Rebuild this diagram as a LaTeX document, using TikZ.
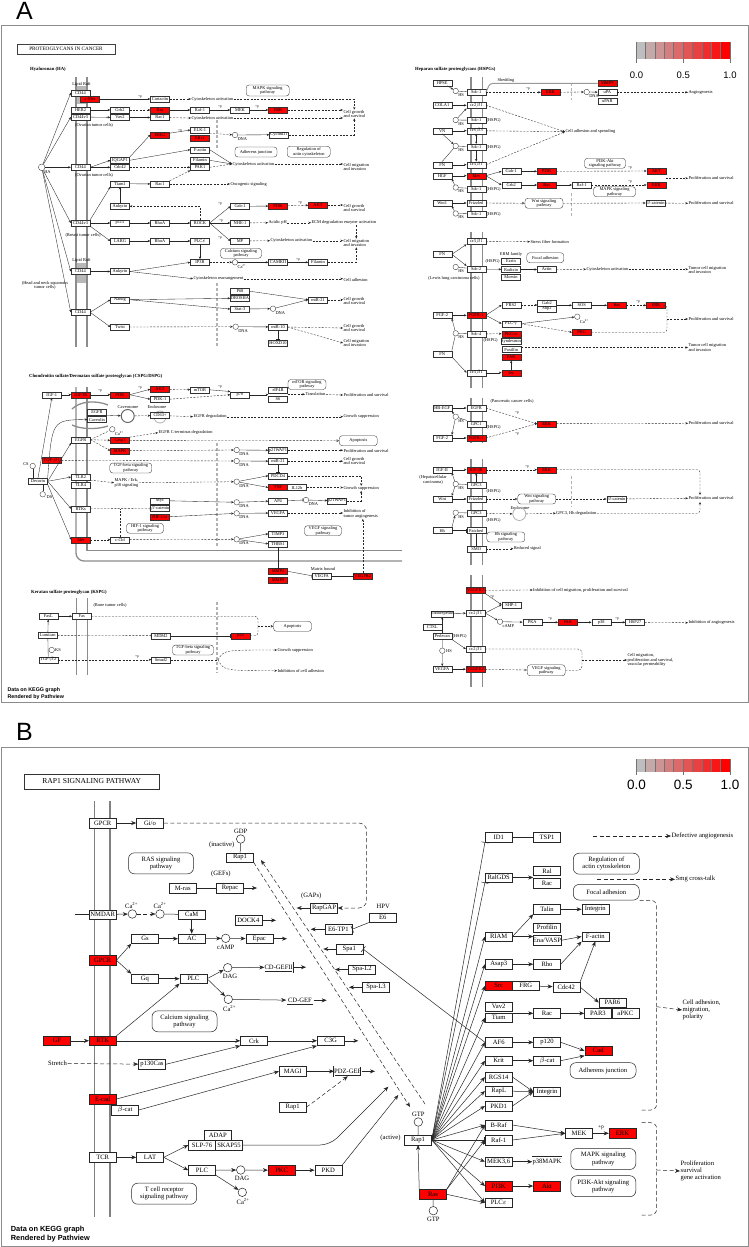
\documentclass[tikz,border=0pt]{standalone}
\usepackage{fontspec}
\setmainfont{Liberation Serif}
\newfontfamily\sansf{Liberation Sans}
\usetikzlibrary{arrows.meta}
\newcommand\fa{\fontsize{4.4}{4.7}\selectfont}
\newcommand\fb{\fontsize{6.6}{7.3}\selectfont}
\newcommand\fpp{\fontsize{3.6}{3.6}\selectfont}
\definecolor{lgr}{RGB}{190,190,190}
\definecolor{kred}{RGB}{255,0,0}
\newcommand\cir[4]{\node[ca] (#1) at (#2,#3) {}; \node[ta, anchor=north west] (#1t) at (#1.south east) {#4};}
\newcommand\plusp[3]{\node[pp] (#1) at (#2,#3) {+p};}
\tikzset{
 wa/.style={draw=black!80, fill=white, line width=0.35pt, minimum width=19pt, minimum height=6pt, inner sep=0pt, font=\fa},
 ra/.style={wa, fill=kred},
 pa/.style={draw=black!80, fill=white, line width=0.35pt, rounded corners=3pt, minimum width=40pt, minimum height=10pt, inner sep=0pt, align=center, font=\fa},
 ta/.style={font=\fa, inner sep=0.3pt, align=center},
 tw/.style={font=\fa, inner sep=0.3pt, align=left, anchor=west},
 hd/.style={font=\fontsize{4.7}{5}\selectfont\bfseries, inner sep=0pt, anchor=west},
 ca/.style={circle, draw=black!80, fill=white, line width=0.35pt, minimum size=5.5pt, inner sep=0pt},
 ln/.style={draw=black!85, line width=0.35pt},
 ar/.style={ln, -{Stealth[length=2.6pt,width=2.2pt]}},
 dr/.style={ar, dash pattern=on 2pt off 1.4pt},
 dn/.style={ln, dash pattern=on 2pt off 1.4pt},
 ib/.style={ln, -{Bar[width=4pt]}},
 di/.style={ib, dash pattern=on 2pt off 1.4pt},
 oa/.style={dn, -{Triangle[open,length=2.4pt,width=2.4pt]}},
 mem/.style={draw=black!45, line width=1.3pt},
 nuc/.style={draw=black!30, line width=1.3pt, dash pattern=on 3pt off 2pt},
 pp/.style={font=\fpp, inner sep=0pt},
 wb/.style={draw=black!85, fill=white, line width=0.5pt, minimum width=27pt, minimum height=9.5pt, inner sep=0pt, font=\fb},
 rb/.style={wb, fill=kred},
 pb/.style={draw=black!85, fill=white, line width=0.5pt, rounded corners=6pt, minimum width=65pt, minimum height=21pt, inner sep=0pt, align=center, font=\fb},
 tb/.style={font=\fb, inner sep=0.5pt, align=center},
 cb/.style={circle, draw=black!85, fill=white, line width=0.5pt, minimum size=8.5pt, inner sep=0pt},
 lb/.style={draw=black!85, line width=0.5pt},
 ab/.style={lb, -{Stealth[length=5pt,width=4pt]}},
 db/.style={ab, dash pattern=on 4pt off 2.5pt},
 dnb/.style={lb, dash pattern=on 4pt off 2.5pt},
 bb/.style={lb, -{Bar[width=7pt]}},
 memb/.style={draw=black!50, line width=1.6pt},
 frm/.style={draw=black!45, line width=1pt},
}
\begin{document}
\begin{tikzpicture}[x=1pt,y=-1pt]
\useasboundingbox (0,0) rectangle (749,1247);
\fill[white] (0,0) rectangle (749,1247);
% ================= PANEL A =================
\node[font=\sansf\fontsize{25}{25}\selectfont, inner sep=0, anchor=base west] (labA) at (16,20) {A};
\draw[frm] (1,26) rectangle (748,702);
\node[draw=black!75, line width=0.8pt, minimum width=98pt, minimum height=10pt, inner sep=0pt, font=\fontsize{5.2}{5.5}\selectfont] (titA) at (66,49) {PROTEOGLYCANS IN CANCER};
% legend A
\foreach \i in {0,...,9}{\pgfmathtruncatemacro\pc{\i*100/9}\fill[red!\pc!lgr] (636+9.4*\i,42) rectangle (645.4+9.4*\i,59);}
\foreach \i in {0,...,10}{\draw[black!55, line width=0.35pt] (636+9.4*\i,42) -- (636+9.4*\i,59);}
\foreach \i in {0,5,10}{\draw[black!55, line width=0.35pt] (636+9.4*\i,59) -- (636+9.4*\i,63);}
\node[font=\sansf\fontsize{9.5}{10}\selectfont, inner sep=0] (lgA0) at (636.5,75.5) {0.0};
\node[font=\sansf\fontsize{9.5}{10}\selectfont, inner sep=0] (lgA1) at (683.3,75.5) {0.5};
\node[font=\sansf\fontsize{9.5}{10}\selectfont, inner sep=0] (lgA2) at (730,75.5) {1.0};
% membranes A
\draw[mem] (76,77) -- (76,347); \draw[mem] (87,77) -- (87,347);
\fill[black!28] (77,86) rectangle (86,104);
\fill[black!28] (77,263) rectangle (86,283);
\draw[mem, rounded corners=8] (76,387) -- (76,561) -- (402,561);
\draw[mem] (87,387) -- (87,550.7) -- (402,550.7);
\draw[mem] (72,409) .. controls (80,401) and (96,400) .. (108,405);
\draw[mem] (72,425) .. controls (80,429) and (96,430) .. (108,426);
\draw[mem] (76.7,598) -- (76.7,675); \draw[mem] (87.7,598) -- (87.7,675);
\foreach \a/\b in {77/218,232/388,398/443,459/565,575/687}{\draw[mem] (471,\a) -- (471,\b); \draw[mem] (482.3,\a) -- (482.3,\b);}
\draw[nuc] (217,120) -- (217,150); \draw[nuc] (217,283) -- (217,347);
\draw[nuc] (217,443) -- (217,547); \draw[nuc] (217,602) -- (217,673);
\draw[nuc] (571.7,83) -- (571.7,100); \draw[nuc] (571.7,193) -- (571.7,217); \draw[nuc] (571.7,476) -- (571.7,507);
% ---- Hyaluronan
\node[hd] (hdHA) at (30,69) {Hyaluronan (HA)};
\node[ta] (lr1) at (81.5,84) {Lipid Raft};
\node[ta] (lr2) at (81.5,260) {Lipid Raft};
\node[wa] (cd44a) at (80.5,92.7) {CD44};
\node[ra] (cmet) at (90,99) {c-Met};
\node[wa] (cort) at (160,99) {Cortactin};
\node[tw] (cytA1) at (191,99) {Cytoskeleton activation};
\node[pa, minimum width=43pt, minimum height=11pt] (mapkA) at (267.7,90.5) {MAPK signaling\\pathway};
\node[wa] (her2) at (80.5,110) {HER2};
\node[wa] (cd44v3a) at (80.5,117) {CD44v3};
\node[ta] (ovar1) at (94,125) {(Ovarian tumor cells)};
\node[wa] (grb2a) at (120,110) {Grb2};
\node[wa] (vav2a) at (120,117.5) {Vav2};
\node[ra] (rasA) at (160,110) {Ras};
\node[wa] (rac1a) at (160,117.5) {Rac1};
\node[wa] (raf1a) at (200,110) {Raf-1};
\node[wa] (mekA) at (240,110) {MEK};
\node[ra] (erkA) at (278,110) {ERK};
\node[tw] (cgs1) at (343,114) {Cell growth\\and survival};
\node[tw] (cytA2) at (191,118) {Cytoskeleton activation};
\node[ra] (erk2a) at (160,134.7) {ERK2};
\node[wa] (elk1) at (200,130) {ELK-1};
\node[ra] (era) at (200,138.5) {ER$\alpha$};
\cir{dna1}{235}{135}{DNA}
\node[wa] (cycd1) at (279,134.7) {CyclinD1};
\node[pa, minimum width=42pt] (adhA) at (256,152) {Adherens junction};
\node[pa, minimum width=43pt, minimum height=11pt] (regA) at (308.7,151.7) {Regulation of\\actin cytoskeleton};
\node[wa] (iqgap) at (120,160.3) {IQGAP1};
\node[wa] (cdc42a) at (120,167.3) {Cdc42};
\node[wa] (cd44b) at (80.5,167.3) {CD44};
\node[ta] (ovar2) at (94,175.7) {(Ovarian tumor cells)};
\node[wa] (factin) at (200,149.7) {F-actin};
\node[wa] (filA) at (200,160.3) {Filamin};
\node[wa] (pak1) at (200,167.3) {PAK1};
\node[tw] (cytA3) at (232,164) {Cytoskeleton activation};
\node[tw] (cmi1) at (343,167) {Cell migration\\and invasion};
\node[circle, draw=black!80, fill=white, line width=0.35pt, minimum size=6.6pt, inner sep=0pt] (ha) at (41.7,167.3) {};
\node[ta] (hat) at (47.5,172.5) {HA};
\node[wa] (tiam1) at (120,183.7) {Tiam1};
\node[wa] (rac1b) at (160,184) {Rac1};
\node[tw] (onco) at (230,184) {Oncogenic signaling};
\node[wa] (ank1) at (120,206.3) {Ankyrin};
\node[wa] (gab1a) at (240,206.3) {Gab-1};
\node[ra] (pi3ka) at (278,206) {PI3K};
\node[ra] (akta) at (318,205) {AKT};
\node[tw] (cgs2) at (343,208) {Cell growth\\and survival};
\node[wa] (cd44v3b) at (80.5,223) {CD44v3};
\node[ta] (breast) at (83,235.7) {(Breast tumor cells)};
\node[wa] (p115) at (120,223) {p115};
\node[wa] (rhoa1) at (160,223) {RhoA};
\node[wa] (rock) at (200,223) {ROCK};
\node[wa] (nhe1) at (240,223) {NHE-1};
\node[tw] (acid) at (268,222.7) {Acidic pH};
\node[tw] (ecm) at (311,222.7) {ECM degradation enzyme activation};
\node[wa] (larg) at (120,241) {LARG};
\node[wa] (rhoa2) at (160,241) {RhoA};
\node[wa] (plce) at (200,241) {PLC$\varepsilon$};
\node[wa] (mp) at (240,241) {MP};
\node[tw] (cytA4) at (270,240.7) {Cytoskeleton activation};
\node[tw] (cmi2) at (343,243) {Cell migration\\and invasion};
\node[pa, minimum width=41pt] (calA) at (241,253.3) {Calcium signaling\\pathway};
\node[wa] (ip3r) at (200,262.3) {IP3R};
\cir{ca1}{235}{262.3}{Ca\textsuperscript{2+}}
\node[wa] (camk) at (278,262.3) {CAMKII};
\node[wa] (fil2) at (318,262.3) {Filamin};
\node[wa] (cd44c) at (80.5,271.5) {CD44};
\node[wa] (ank2) at (120,271.5) {Ankyrin};
\node[tw] (cytre) at (193,278.7) {Cytoskeleton rearrangement};
\node[tw] (cadh) at (343,280) {Cell adhesion};
\node[ta] (hnsc) at (45,285.5) {(Head and neck squamous\\tumor cells)};
\node[wa] (p68) at (240,291.2) {P68};
\node[wa] (drosha) at (240,298.3) {DROSHA};
\node[wa] (stat3) at (240,309) {Stat-3};
\node[wa] (nanog) at (120,299.7) {Nanog};
\node[wa] (cd44d) at (80.5,312.3) {CD44};
\cir{dna2}{273}{308.7}{DNA}
\node[wa] (mir21a) at (318,299.7) {miR-21};
\node[tw] (cgs3) at (343,301) {Cell growth\\and survival};
\node[wa] (twist) at (120,327) {Twist};
\cir{dna3}{235.7}{326.7}{DNA}
\node[wa] (mir10) at (278,327) {miR-10};
\node[wa] (hoxd10) at (278,343) {HOXD10};
\node[tw] (cgs4) at (343,328) {Cell growth\\and survival};
\node[tw] (cmi3) at (343,343) {Cell migration\\and invasion};
\plusp{pq1}{140}{96.5}\plusp{pq2}{220}{106.5}\plusp{pq3}{257}{106.5}\plusp{pq4}{180}{130.5}
\plusp{pq5}{220}{204}\plusp{pq6}{221}{220.5}\plusp{pq7}{220}{237.5}\plusp{pq8}{300}{202.5}\plusp{pq9}{298}{259.5}
% HA edges
\foreach \t in {cd44a,cd44v3a,cd44b,cd44v3b,cd44c,cd44d}{\draw[ar] (ha) -- (\t.west);}
\draw[ar] (cmet) -- (cort);
\draw[dr] (cort) -- (cytA1.west);
\draw[dr] (cytA1.east) -| (cgs1.north);
\draw[ar] (her2) -- (grb2a);
\draw[dr] (grb2a) -- (rasA);
\draw[ar] (rasA) -- (raf1a); \draw[ar] (raf1a) -- (mekA); \draw[ar] (mekA) -- (erkA);
\draw[dr] (erkA) -- (erkA -| cgs1.west);
\draw[ar] (cd44v3a) -- (vav2a); \draw[ar] (vav2a) -- (rac1a);
\draw[dr] (rac1a) -- (cytA2.west); \draw[dr] (cytA2.east) -- (cytA2 -| cgs1.west);
\draw[ar] (iqgap.north east) -- (erk2a.west);
\draw[ar] (erk2a) -- (elk1.west);
\draw[dr] (elk1.south east) -- (dna1);
\draw[ar] (dna1) -- (cycd1);
\draw[dr] (cycd1.east) -| (cgs1.south);
\draw[ar] (cd44b.east) -- (iqgap.west); \draw[ar] (cd44b.east) -- (cdc42a.west);
\draw[ar] (iqgap.east) -- (factin.west);
\draw[dr] (cdc42a) -- (pak1);
\draw[ar] (factin.east) -- (cytA3.west); \draw[ar] (filA.east) -- (cytA3.west);
\draw[dr] (pak1.east) -- (cytA3.west);
\draw[dr] (cytA3.east) -- (cytA3 -| cmi1.west);
\draw[ar] (tiam1) -- (rac1b);
\draw[dr] (rac1b.north east) -- (pak1.south west);
\draw[dr] (rac1b) -- (onco.west);
\draw[ar] (cd44v3b.north east) -- (tiam1.south west);
\draw[ar] (ank1) -- (tiam1);
\draw[ar] (cd44v3b) -- (p115); \draw[ar] (p115) -- (rhoa1); \draw[ar] (rhoa1) -- (rock);
\draw[ar] (cd44v3b.south east) -- (larg.west); \draw[ar] (larg) -- (rhoa2); \draw[ar] (rhoa2) -- (plce);
\draw[ar] (plce) -- (ip3r);
\draw[dr] (rock.north) |- (ank1.east);
\draw[ar] (rock.east) -- (gab1a.west); \draw[ar] (rock) -- (nhe1); \draw[ar] (rock.east) -- (mp.west);
\draw[ar] (gab1a) -- (pi3ka); \draw[dr] (pi3ka) -- (akta); \draw[dr] (akta) -- (akta -| cgs2.west);
\draw[dr] (nhe1) -- (acid.west); \draw[dr] (acid) -- (ecm.west);
\draw[dr] (mp) -- (cytA4.west); \draw[dr] (cytA4) -- (cytA4 -| cmi2.west);
\draw[dr] (ecm.south -| cmi2.north) -- (cmi2.north);
\draw[dr] (ip3r) -- (ca1); \draw[ar] (ca1) -- (camk); \draw[ar] (camk) -- (fil2);
\draw[dr] (fil2.east) -| (cmi2.south);
\draw[ar] (cd44c) -- (ank2);
\draw[ar] (ank2.east) -- (ip3r.west); \draw[ar] (ank2.east) -- (cytre.west);
\draw[dr] (cytre) -- (cytre -| cadh.west);
\draw[ar] (cd44d.east) -- (nanog.west); \draw[ar] (cd44d.east) -- (twist.west);
\draw[ar] (nanog.east) -- (drosha.west); \draw[ar] (nanog.east) -- (stat3.west);
\draw[ar] (p68.east) -- (mir21a.west); \draw[ar] (stat3) -- (dna2); \draw[ar] (dna2) -- (mir21a.west);
\draw[dr] (mir21a) -- (mir21a -| cgs3.west);
\draw[dr] (twist) -- (dna3); \draw[ar] (dna3) -- (mir10); \draw[ib] (mir10) -- (hoxd10);
\draw[dr] (mir10.east) -- (cgs4.west); \draw[dr] (mir10.east) -- (cmi3.west);
% ---- CSPG / DSPG
\node[hd] (hdCS) at (29,376.7) {Chondroitin sulfate/Dermatan sulfate proteoglycan (CSPG/DSPG)};
\node[wa] (igf1) at (51.8,394.7) {IGF-1};
\node[ra] (igf1r) at (80.8,394.7) {IGF-IR};
\node[ra] (pi3kb) at (120,394.7) {PI3K};
\node[ra] (aktb) at (160,389.2) {AKT};
\node[wa] (pdk1) at (160,399.2) {PDK-1};
\node[wa] (mtor) at (200,389.8) {mTOR};
\node[wa] (p70) at (240,394.7) {p70};
\node[wa] (eif4b) at (278,390.5) {eIF4B};
\node[wa] (s6) at (278,399) {S6};
\node[pa, minimum width=38pt] (mtorp) at (307,384.5) {mTOR signaling\\pathway};
\node[tw] (transl) at (305,394.3) {Translation};
\node[tw] (prolA1) at (343,395) {Proliferation and survival};
\node[wa] (egfr1) at (97,412) {EGFR};
\node[wa] (cav) at (97,419.5) {Caveolin};
\node[circle, draw=black!60, line width=1pt, fill=white, minimum size=13pt, inner sep=0pt] (cavs) at (127.7,416) {};
\node[ta] (cavst) at (128,407.2) {Caveosome};
\node[ta] (endot) at (157,407.2) {Endosome};
\node[circle, draw=black!30, line width=0.8pt, minimum size=12pt, inner sep=0pt] (endoc1) at (160,417) {};
\node[wa] (cd63) at (160,415.5) {CD63+};
\node[tw] (egfrd) at (193,416.7) {EGFR degradation};
\node[tw] (gsupp1) at (343,416.7) {Growth suppression};
\node[wa] (egfr2) at (80.8,439.7) {EGFR};
\cir{ca2}{112.3}{429.3}{Ca\textsuperscript{2+}}
\node[ra] (casp3) at (120,440.3) {Casp3};
\node[ra] (mapkb) at (120,450.7) {MAPK};
\node[tw] (egfrc) at (158,432.7) {EGFR C-terminus degradation};
\node[pa, minimum width=38pt] (apop1) at (358.3,440.7) {Apoptosis};
\cir{dna4}{236.7}{450}{DNA}
\node[wa] (p21a) at (278,450.3) {p21WAF1};
\node[tw] (prolA2) at (343,451) {Proliferation and survival};
\node[ra] (tgfb1) at (51.8,460.3) {TGF-$\beta$1};
\cir{dna5}{236.7}{461}{DNA}
\node[wa] (mir21b) at (278,461.2) {miR-21};
\node[tw] (cgs5) at (343,461) {Cell growth\\and survival};
\node[pa, minimum width=42pt] (tgfbp) at (130.8,468) {TGF-beta signaling\\pathway};
\node[ca] (csC) at (32.7,466) {};
\node[ta] (csT) at (26,464.5) {CS};
\node[wa] (decorin) at (38,481.3) {Decorin};
\node[ca] (dsC) at (42.7,494.3) {};
\node[ta] (dsT) at (49.5,497) {DS};
\node[wa] (tlr2) at (80.8,477) {TLR2};
\node[wa] (tlr4) at (80.8,485.5) {TLR4};
\node[tw] (mapkerk) at (114,482.7) {MAPK / Erk,\\p38 signaling};
\cir{dna6}{236.7}{481.7}{DNA}
\node[wa] (pdcd4) at (278,475.7) {PDCD4};
\node[ra] (tnf) at (278,487.5) {TNF};
\node[wa] (il12b) at (297,487.5) {IL12b};
\node[tw] (gsupp2) at (343,488.3) {Growth suppression};
\node[wa] (rtks) at (80.8,508.8) {RTKs};
\node[wa] (myc) at (160,500.8) {Myc};
\node[wa] (bcat1) at (160,508.5) {$\beta$-catenin};
\node[ra] (hif1a) at (160,516.7) {HIF-1$\alpha$};
\cir{dna7}{236.7}{502.3}{DNA}
\node[wa] (ap4) at (278,500.8) {AP4};
\cir{dna8}{306}{500}{DNA}
\node[wa] (p21b) at (337,500.8) {p21WAF1};
\cir{dna9}{236.7}{513.3}{DNA}
\node[wa] (vegfa1) at (278,513) {VEGFA};
\node[tw] (inhang) at (343,514) {Inhibition of\\tumor angiogenesis};
\node[pa, minimum width=37pt] (hifp) at (145,528.3) {HIF-1 signaling\\pathway};
\node[pa, minimum width=37pt] (vegfp1) at (323,530.7) {VEGF signaling\\pathway};
\node[ra] (met1) at (80.8,539.7) {Met};
\node[wa] (ccbl) at (120,539.7) {c-Cbl};
\cir{dna10}{236.7}{539.3}{DNA}
\node[wa] (timp3) at (278,533.8) {TIMP3};
\node[wa] (thbs1) at (278,543.8) {THBS1};
\node[ra] (mmp2) at (278,571.3) {MMP2};
\node[ra] (mmp9a) at (278,580.3) {MMP9};
\node[ta] (matrixb) at (323,569) {Matrix bound};
\node[wa] (vegfa2) at (321.7,575.8) {VEGFA};
\node[ra] (vegfr2a) at (362.8,575.8) {VEGFR2};
\plusp{pq10}{100}{391}\plusp{pq11}{140}{387.5}\plusp{pq12}{220}{387}
\draw[ar] (decorin.north) -- (igf1.south);
\draw[ar] (igf1) -- (igf1r); \draw[ar] (igf1r) -- (pi3kb);
\draw[ar] (pi3kb.east) -- (aktb.west); \draw[ar] (pi3kb.east) -- (pdk1.west);
\draw[dr] (aktb) -- (mtor); \draw[ar] (mtor.east) -- (p70.north west);
\draw[dr] (pdk1.east) -- (p70.west);
\draw[ar] (p70.east) -- (eif4b.south west |- p70);
\draw[dr] (transl.west -| s6.east) -- (transl.west);
\draw[dr] (transl) -- (prolA1.west);
\draw[ar] (decorin.north east) .. controls (52,420) .. (cav.west);
\draw[ar] (egfr1.south east) -- (cavs);
\draw[dr] (cavs) -- (cd63); \draw[dr] (cd63) -- (egfrd.west); \draw[dr] (egfrd) -- (egfrd -| gsupp1.west);
\draw[ar] (decorin.east) -- (egfr2.south west);
\draw[dn] (egfr2.east) -- (ca2); \draw[dr] (egfr2.east) -- (casp3.west); \draw[dr] (egfr2.east) -- (mapkb.west);
\draw[dr] (casp3.north east) -- (egfrc.west);
\draw[oa] (casp3) -- (apop1.west);
\draw[dr] (mapkb) -- (dna4); \draw[ar] (dna4) -- (p21a); \draw[dr] (p21a) -- (p21a -| prolA2.west);
\draw[dr] (tgfb1) -- (dna5); \draw[ar] (dna5) -- (mir21b); \draw[dr] (mir21b) -- (mir21b -| cgs5.west);
\draw[ib] (mir21b) -- (pdcd4);
\draw[ln] (csC.south) -- (csC.south |- decorin.north);
\draw[ln] (dsC.north) -- (dsC.north |- decorin.south);
\draw[ar] (decorin.east) -- (tlr2.west);
\draw[dr] (tlr2.south east) -- (mapkerk.west);
\draw[dr] (mapkerk.east) -- (dna6);
\draw[ar] (dna6) -- (pdcd4.west); \draw[ar] (dna6) -- (tnf.west);
\draw[dr] (pdcd4.east) -| (gsupp2.north);
\draw[dr] (il12b) -- (il12b -| gsupp2.west);
\draw[dr] (p21b.east) -| (gsupp2.south);
\draw[ar] (decorin.east) -- (rtks.west);
\draw[di] (rtks) -- (bcat1.west);
\draw[ar] (myc.east) -- (dna7); \draw[ar] (hif1a.east) -- (dna9);
\draw[ar] (dna7) -- (ap4); \draw[ib] (ap4) -- (dna8); \draw[ar] (dna8) -- (p21b);
\draw[ar] (dna9) -- (vegfa1); \draw[dr] (vegfa1) -- (vegfa1 -| inhang.west);
\draw[ar] (decorin.south east) -- (met1.west);
\draw[dr] (met1) -- (ccbl); \draw[dr] (ccbl) -- (dna10);
\draw[ar] (dna10) -- (timp3.west); \draw[ar] (dna10) -- (thbs1.west);
\draw[dn] (ccbl.north) -- (ccbl.north |- rtks);
\draw[ib] (thbs1) -- (mmp2);
\draw[ib] (mmp2.east) -- (vegfa2.west); \draw[ib] (vegfa2) -- (vegfr2a);
\draw[dr] (vegfr2a) -- (vegfr2a |- inhang.south);
% ---- KSPG
\node[hd] (hdKS) at (31,592.3) {Keratan sulfate proteoglycan (KSPG)};
\node[ta] (bone) at (110,605.7) {(Bone tumor cells)};
\node[wa] (fasl) at (48.3,616.3) {FasL};
\node[wa] (fas) at (81.8,616.3) {Fas};
\node[wa] (lumican) at (47.8,635.3) {Lumican};
\node[ca] (ksC) at (51.7,650) {};
\node[ta] (ksT) at (58,650) {KS};
\node[wa] (tgfb2) at (48.3,659.7) {TGF-$\beta$2};
\node[wa] (mdm2) at (161,635.7) {MDM2};
\node[ra] (p53) at (240.5,635.7) {p53};
\node[pa, minimum width=38pt] (apop2) at (292.5,626.3) {Apoptosis};
\node[pa, minimum width=41pt] (tgfbp2) at (193,650) {TGF-beta signaling\\pathway};
\node[wa] (smad2) at (161,659.7) {Smad2};
\node[tw] (gsupp3) at (277,650) {Growth suppression};
\node[tw] (inhcell) at (277,670.7) {Inhibition of cell adhesion};
\plusp{pq13}{137}{657}
\coordinate (kjA) at (258,626.3);
\coordinate (kjB) at (218,659.7);
\draw[ar] (fasl) -- (fas);
\draw[ar] (lumican) -- (fasl);
\draw[ln] (lumican) -- (tgfb2);
\draw[dn, rounded corners=3] (fas.east) -| (kjA);
\draw[dn, rounded corners=3] (p53.east) -| (kjA);
\draw[oa] (kjA) -- (apop2.west);
\draw[di] (lumican) -- (mdm2);
\draw[ib] (mdm2) -- (p53);
\draw[dr] (tgfb2) -- (smad2);
\draw[dn] (smad2) -- (kjB);
\draw[dr] (kjB) .. controls (224,650) .. (gsupp3.west);
\draw[dr] (kjB) .. controls (224,670.7) .. (inhcell.west);
\node[font=\sansf\bfseries\fontsize{5.3}{6}\selectfont, inner sep=0, anchor=west] (dataA1) at (7.3,690.3) {Data on KEGG graph};
\node[font=\sansf\bfseries\fontsize{5.3}{6}\selectfont, inner sep=0, anchor=west] (dataA2) at (7.3,697) {Rendered by Pathview};
% ---- HSPG (right)
\node[hd] (hdHS) at (415,69.3) {Heparan sulfate proteoglycans (HSPGs)};
\node[wa] (hpse) at (442.2,82.7) {HPSE};
\cir{hs1}{455.7}{91}{HS}
\node[wa] (sdc1a) at (476.2,92.3) {Sdc-1};
\node[ta] (shed) at (506,80) {Shedding};
\node[ra] (mmp9b) at (607.3,83.3) {MMP9};
\node[wa] (upa) at (607.3,92.3) {uPA};
\node[wa] (upar) at (607.3,101) {uPAR};
\node[ra] (erkB) at (550.5,92.3) {ERK};
\cir{dnaR1}{586.7}{92}{DNA}
\node[tw] (angio) at (688,92.7) {Angiogenesis};
\node[wa] (cola1) at (442.2,105.3) {COLA1};
\node[wa] (a2b1a) at (476.2,105.3) {$\alpha$2$\beta$1};
\cir{hs2}{455.7}{120}{HS}
\node[wa] (sdc1b) at (476.2,120.3) {Sdc-1};
\node[tw] (hspg1) at (486,120.7) {(HSPG)};
\node[wa] (vn) at (442.2,130.7) {VN};
\node[wa] (avb3) at (476.2,130.7) {$\alpha$v$\beta$3};
\cir{hs3}{455.7}{146}{HS}
\node[wa] (sdc1c) at (476.2,147) {Sdc-1};
\node[tw] (hspg2) at (486,147.3) {(HSPG)};
\node[wa] (fn1) at (442.2,164.7) {FN};
\node[wa] (a5b1a) at (476.2,164.7) {$\alpha$5$\beta$1};
\node[tw] (celladh) at (565,131.7) {Cell adhesion and spreading};
\node[wa] (hgf) at (442.2,175.7) {HGF};
\node[ra] (metR) at (476.2,175.7) {Met};
\cir{hs4}{455.7}{187.5}{HS}
\node[wa] (sdc1d) at (476.2,188.7) {Sdc-1};
\node[tw] (hspg3) at (486,189) {(HSPG)};
\node[wa] (gab1b) at (511.2,171.3) {Gab-1};
\node[ra] (pi3kR) at (546.7,171.3) {PI3K};
\node[pa, minimum width=41pt] (pi3kp) at (605,163.3) {PI3K-Akt\\signaling pathway};
\node[ra] (aktR) at (656.3,171) {AKT};
\node[wa] (grb2R) at (511.2,185) {Grb2};
\node[ra] (rasR) at (546.7,185) {Ras};
\node[wa] (raf1R) at (581.7,185) {Raf-1};
\node[ra] (erkR) at (656.3,185) {ERK};
\node[pa, minimum width=42pt] (mapkR) at (614.5,191.7) {MAPK signaling\\pathway};
\node[tw] (prolR1) at (688,178.3) {Proliferation and survival};
\node[wa] (wnt1) at (442.2,203) {Wnt1};
\node[wa] (fzd1) at (476.2,203) {Frizzled};
\node[pa, minimum width=38pt] (wntp1) at (544,203.3) {Wnt signaling\\pathway};
\node[wa] (bcatR1) at (655.3,203) {$\beta$-catenin};
\node[tw] (prolR2) at (688,203.3) {Proliferation and survival};
\cir{hs5}{455.7}{213.5}{HS}
\node[wa] (sdc1e) at (476.2,213.7) {Sdc-1};
\node[tw] (hspg4) at (486,214) {(HSPG)};
\plusp{pq14}{528}{89}\plusp{pq15}{630}{167.7}\plusp{pq16}{630}{182}
\draw[ar] (hpse) -- (hs1);
\draw[ln] (hs1) -- (sdc1a);
\draw[draw=black!40, line width=1pt, rounded corners=3] (sdc1a.east) -- (490,83.3) -- (mmp9b.west);
\draw[dr] (sdc1a) -- (erkB);
\draw[dr] (erkB) -- (dnaR1); \draw[ar] (dnaR1) -- (upa); \draw[dr] (upa) -- (upa -| angio.west);
\draw[ar] (cola1) -- (a2b1a); \draw[ar] (vn) -- (avb3); \draw[ar] (fn1) -- (a5b1a);
\draw[ar] (hgf) -- (metR); \draw[ar] (wnt1) -- (fzd1);
\draw[ln] (hs2) -- (sdc1b); \draw[ar] (hs2) -- (a2b1a.south west);
\draw[ln] (hs3) -- (sdc1c); \draw[ar] (vn.south) -- (hs3); \draw[ln] (fn1.north) -- (hs3);
\draw[ln] (hs4) -- (sdc1d); \draw[ar] (hs4) -- (hgf.south east);
\draw[ln] (hs5) -- (sdc1e); \draw[ar] (hs5) -- (wnt1.south east);
\draw[dr] (a2b1a.east) -- (celladh.west); \draw[dr] (avb3) -- (celladh.west); \draw[dr] (a5b1a.east) -- (celladh.west);
\draw[ln, {Stealth[length=2.2pt,width=2pt]}-{Stealth[length=2.2pt,width=2pt]}] (avb3) -- (sdc1c);
\draw[ar] (sdc1c) -- (a5b1a);
\draw[ar] (metR.east) -- (gab1b.west); \draw[ar] (metR.east) -- (grb2R.west);
\draw[ar] (gab1b) -- (pi3kR); \draw[dr] (pi3kR) -- (aktR);
\draw[ar] (grb2R) -- (rasR); \draw[ar] (rasR) -- (raf1R); \draw[dr] (raf1R) -- (erkR);
\draw[dr] (aktR.east |- prolR1) -- (prolR1.west);
\draw[oa] (fzd1) -- (wntp1); \draw[dr] (wntp1) -- (bcatR1); \draw[dr] (bcatR1) -- (prolR2.west);
% Lewis lung
\node[wa] (a5b1b) at (476.2,241.2) {$\alpha$5$\beta$1};
\node[tw] (stress) at (530,241.7) {Stress fiber formation};
\node[wa] (fn2) at (442.2,254.3) {FN};
\cir{hs6}{455.7}{267}{HS}
\node[wa] (sdc2) at (476.2,269) {Sdc-2};
\node[tw] (hspg5) at (485,261.7) {(HSPG)};
\node[ta] (lewis) at (454,278.3) {(Lewis lung carcinoma cells)};
\node[ta] (ermt) at (511,254.5) {ERM family};
\node[wa] (ezrin) at (511,261.2) {Ezrin};
\node[wa] (radixin) at (511,269.5) {Radixin};
\node[wa] (moesin) at (511,277.2) {Moesin};
\node[pa, minimum width=37pt] (focal) at (545.3,257.7) {Focal adhesion};
\node[wa] (actin) at (546.7,269.5) {Actin};
\node[tw] (cytR) at (586,269.3) {Cytoskeleton activation};
\node[tw] (tumR1) at (688,270) {Tumor cell migration\\and invasion};
\draw[ar] (fn2.east) -- (a5b1b.south west); \draw[ar] (fn2.east) -- (sdc2.north west);
\draw[ln] (hs6) -- (sdc2);
\draw[dr] (a5b1b) -- (stress.west);
\draw[ar] (sdc2) -- (radixin); \draw[ar] (radixin) -- (actin);
\draw[dr] (actin) -- (cytR.west); \draw[dr] (cytR) -- (cytR -| tumR1.west);
% FGF
\node[wa] (frs2) at (511.2,305) {FRS2};
\node[wa] (gab2) at (547,302.8) {Gab2};
\node[wa] (shp2) at (547,308.7) {Shp2};
\node[wa] (sos) at (581.7,305.3) {SOS};
\node[ra] (rasR2) at (616.8,305.3) {Ras};
\node[ra] (erkR2) at (656,305.3) {ERK};
\node[wa] (fgf2a) at (442.2,315.3) {FGF-2};
\node[ra] (fgfr1a) at (476.2,315.3) {FGFR-1};
\node[wa] (plcg) at (511.2,323.7) {PLC$\gamma$};
\cir{caR}{577.3}{316.7}{Ca\textsuperscript{2+}}
\node[ra] (pkcR) at (581.7,332.3) {PKC};
\node[tw] (prolR3) at (688,319) {Proliferation and survival};
\cir{hs7}{455.7}{333.3}{HS}
\node[wa] (sdc4) at (476.2,334) {Sdc-4};
\node[tw] (hspg6) at (483,340.7) {(HSPG)};
\node[ra] (pkca) at (511.2,333.7) {PKC$\alpha$};
\node[wa] (synd) at (511.2,341.3) {Syndesmos};
\node[wa] (pax) at (511.2,349.5) {Paxillin};
\node[ra] (fak1) at (511.2,357.3) {FAK};
\node[tw] (tumR2) at (688,347.5) {Tumor cell migration\\and invasion};
\node[wa] (fn3) at (442.2,353.7) {FN};
\node[wa] (a5b1c) at (476.2,372.7) {$\alpha$5$\beta$1};
\node[ra] (srcR) at (511.2,372.7) {Src};
\plusp{pq17}{638}{302}
\coordinate (kjC) at (667,319);
\draw[ar] (fgf2a) -- (fgfr1a); \draw[ar] (fgfr1a.east) -- (frs2.west); \draw[ar] (fgfr1a.east) -- (plcg.west);
\draw[dr] (frs2) -- (frs2 -| gab2.west);
\draw[ar] (sos -| gab2.east) -- (sos.west);
\draw[ar] (sos) -- (rasR2); \draw[dr] (rasR2) -- (erkR2);
\draw[ar] (plcg.east) -- (caR); \draw[dr] (plcg.east) -- (pkcR.west);
\draw[dn, rounded corners=3] (erkR2.east) -| (kjC); \draw[dn, rounded corners=3] (pkcR.east) -| (kjC);
\draw[dr] (kjC) -- (prolR3.west);
\draw[ln] (hs7) -- (sdc4); \draw[ar] (hs7) -- (fgf2a.south east);
\draw[dr] (sdc4) -- (pkca.west);
\draw[dr] (synd.east |- tumR2) -- (tumR2.west);
\draw[ar] (fn3.south east) -- (a5b1c.west); \draw[ln] (fn3.north east) -- (hs7);
\draw[ar] (a5b1c) -- (srcR); \draw[ar] (srcR) -- (fak1);
% pancreatic
\node[wa] (hbegf) at (442.2,408) {HB-EGF};
\node[wa] (egfrR) at (476.2,408) {EGFR};
\node[ta] (panc) at (512,401.7) {(Pancreatic cancer cells)};
\cir{hs8}{455.7}{416.7}{HS}
\node[wa] (gpc1) at (476.2,423.7) {GPC1};
\node[tw] (hspg7) at (486,427.3) {(HSPG)};
\node[wa] (fgf2b) at (442.2,438) {FGF-2};
\node[ra] (fgfr1b) at (476.2,438) {FGFR-1};
\node[ra] (erkR3) at (546.7,423.7) {ERK};
\node[tw] (prolR4) at (688,423.3) {Proliferation and survival};
\plusp{pq18}{517}{412.5}\plusp{pq19}{517}{433.5}
\draw[ar] (hbegf) -- (egfrR); \draw[ln] (hs8) -- (gpc1);
\draw[ar] (hs8) -- (hbegf.south east); \draw[ar] (hs8) -- (fgf2b.north east);
\draw[ar] (fgf2b) -- (fgfr1b);
\draw[dr] (egfrR.east) -- (erkR3.west); \draw[dr] (fgfr1b.east) -- (erkR3.west);
\draw[dr] (erkR3) -- (prolR4.west);
% hepatocellular
\node[wa] (igf2) at (442.2,469.7) {IGF-II};
\node[ra] (igf1rR) at (476.2,469.7) {IGF-IR};
\node[ra] (erkR4) at (546.7,469.7) {ERK};
\node[ta] (hepa) at (433,480) {(Hepatocellular\\carcinoma)};
\cir{hs9}{455.7}{484}{HS}
\node[wa] (gpc3a) at (476.2,484.7) {GPC3};
\node[tw] (hspg8) at (486,491.7) {(HSPG)};
\node[wa] (wnt2) at (442.2,499) {Wnt};
\node[wa] (fzd2) at (476.2,499) {Frizzled};
\node[pa, minimum width=38pt] (wntp2) at (536.7,499) {Wnt signaling\\pathway};
\node[wa] (bcatR2) at (616.2,499) {$\beta$-catenin};
\node[tw] (prolR5) at (688,498.3) {Proliferation and survival};
\cir{hs10}{455.7}{512.7}{HS}
\node[wa] (gpc3b) at (476.2,513) {GPC3};
\node[tw] (hspg9) at (486,520) {(HSPG)};
\node[ta] (endoR) at (520,507.8) {Endosome};
\node[circle, draw=black!30, line width=0.8pt, minimum size=13pt, inner sep=0pt] (endoC) at (519.3,514) {};
\node[tw] (gpcdeg) at (555.7,513.3) {GPC3, Hh degradation};
\node[wa] (hh) at (442.2,530.5) {Hh};
\node[wa] (ptch) at (476.2,530.5) {Patched};
\node[pa, minimum width=38pt] (hhp) at (505.8,537) {Hh signaling\\pathway};
\node[wa] (smo) at (476.2,548.7) {SMO};
\node[tw] (reduced) at (513.3,548.7) {Reduced signal};
\plusp{pq20}{527}{466.5}
\coordinate (kjD) at (700,495);
\coordinate (kjE) at (700,502);
\draw[ar] (igf2) -- (igf1rR); \draw[dr] (igf1rR) -- (erkR4);
\draw[dr, rounded corners=3] (erkR4.east) -| (kjD);
\draw[dr, rounded corners=3] (gpcdeg.east) -| (kjE);
\draw[ln] (hs9) -- (gpc3a); \draw[ar] (hs9) -- (igf2.south east); \draw[ar] (hs9) -- (wnt2.north east);
\draw[ar] (gpc3a) -- (igf1rR);
\draw[ar] (wnt2) -- (fzd2); \draw[oa] (fzd2) -- (wntp2); \draw[dr] (wntp2) -- (bcatR2); \draw[dr] (bcatR2) -- (prolR5.west);
\draw[ln] (hs10) -- (gpc3b); \draw[ar] (hh.north east) -- (hs10);
\draw[dr] (gpc3b) -- (endoC); \draw[dr] (endoC) -- (gpcdeg.west);
\draw[ib] (hh) -- (ptch); \draw[ln] (ptch) -- (smo); \draw[dr] (smo) -- (reduced.west);
% perlecan
\node[ra] (vegfr2b) at (475.5,590.3) {VEGFR2};
\node[tw] (inhcm) at (532.7,590) {Inhibition of cell migration, proliferation and survival};
\node[wa] (shp1) at (511.2,604.7) {SHP-1};
\node[wa] (endor) at (442.2,613.7) {Endorepellin};
\node[wa] (a2b1b) at (475.5,613) {$\alpha$2$\beta$1};
\node[wa] (ctsl) at (432.2,627.5) {CTSL};
\node[wa] (perl) at (442.2,636.3) {Perlecan};
\node[tw] (hspg10) at (452,636.7) {(HSPG)};
\cir{camp1}{500}{621.7}{cAMP}
\node[wa] (pka) at (532.2,622.3) {PKA};
\node[ra] (fakR) at (567.8,622.3) {FAK};
\node[wa] (p38a) at (601.2,622.3) {p38};
\node[wa] (hsp27) at (635,622.3) {HSP27};
\node[tw] (inhang2) at (688,622.7) {Inhibition of angiogenesis};
\node[ca] (hs11) at (442.3,650.7) {};
\node[ta] (hs11t) at (449,651) {HS};
\node[wa] (a2b1c) at (475.5,649) {$\alpha$2$\beta$1};
\node[wa] (vegfa3) at (442.2,669.2) {VEGFA};
\node[ra] (vegfr2c) at (475.5,669.2) {VEGFR2};
\node[pa, minimum width=38pt, minimum height=11pt] (vegfp2) at (546.2,670.3) {VEGF signaling\\pathway};
\node[tw] (cellmig) at (627,660) {Cell migration,\\proliferation and survival,\\vascular permeability};
\plusp{pq21}{492}{597.3}\plusp{pq22}{550}{619.3}\plusp{pq23}{617}{619}
\coordinate (kjF) at (582,660);
\draw[dr] (vegfr2b) -- (inhcm.west);
\draw[ar] (vegfr2b.south east) -- (shp1.west);
\draw[ar] (a2b1b.east) -- (shp1.west);
\draw[ar] (a2b1b.east) -- (camp1);
\draw[ar] (camp1) -- (pka); \draw[ar] (pka) -- (fakR); \draw[ar] (fakR) -- (p38a); \draw[ar] (p38a) -- (hsp27);
\draw[dr] (hsp27) -- (inhang2.west);
\draw[ar] (endor) -- (a2b1b); \draw[ar] (perl) -- (endor);
\draw[ar] (perl.south east) -- (a2b1c.west);
\draw[ln] (perl) -- (hs11); \draw[ar] (hs11) -- (vegfa3);
\draw[ar] (vegfa3) -- (vegfr2c); \draw[oa] (vegfr2c) -- (vegfp2);
\draw[dn, rounded corners=4] (a2b1c.east) -| (kjF);
\draw[dn, rounded corners=4] (vegfp2.east) -| (kjF);
\draw[dr] (kjF) -- (cellmig.west);
% ================= PANEL B =================
\node[font=\sansf\fontsize{25}{25}\selectfont, inner sep=0, anchor=base west] (labB) at (16,740) {B};
\draw[frm] (1,747) rectangle (748,1246);
\node[draw=black!80, line width=0.9pt, minimum width=135pt, minimum height=15pt, inner sep=0pt, font=\fontsize{7.6}{8}\selectfont] (titB) at (91.7,781.5) {RAP1 SIGNALING PATHWAY};
\foreach \i in {0,...,9}{\pgfmathtruncatemacro\pc{\i*100/9}\fill[red!\pc!lgr] (636+9.4*\i,759) rectangle (645.4+9.4*\i,772);}
\foreach \i in {0,...,10}{\draw[black!55, line width=0.4pt] (636+9.4*\i,759) -- (636+9.4*\i,772);}
\foreach \i in {0,5,10}{\draw[black!55, line width=0.4pt] (636+9.4*\i,772) -- (636+9.4*\i,775);}
\node[font=\sansf\fontsize{13.5}{14}\selectfont, inner sep=0] (lgB0) at (636.5,784.5) {0.0};
\node[font=\sansf\fontsize{13.5}{14}\selectfont, inner sep=0] (lgB1) at (683.3,784.5) {0.5};
\node[font=\sansf\fontsize{13.5}{14}\selectfont, inner sep=0] (lgB2) at (730,784.5) {1.0};
\draw[memb] (94.3,801) -- (94.3,1216.7); \draw[memb] (110,801) -- (110,1216.7);
% left part
\node[wb] (gpcr1) at (102.7,823) {GPCR};
\node[wb] (gio) at (150,823) {Gi/o};
\node[cb] (gdp) at (240.7,839) {};
\node[tb] (gdpT) at (240.7,831) {GDP};
\node[tb] (inact) at (221.7,845) {(inactive)};
\node[wb] (rap1i) at (240,857.5) {Rap1};
\node[pb] (rasp) at (161,863.3) {RAS signaling\\pathway};
\node[tb] (gefs) at (220.8,874.3) {(GEFs)};
\node[wb] (mras) at (182.7,888) {M-ras};
\node[wb] (repac) at (230,888) {Repac};
\node[wb] (nmdar) at (102.7,914.5) {NMDAR};
\node[cb] (caB1) at (132.3,914) {};
\node[tb] (caB1t) at (131.5,905.5) {Ca\textsuperscript{2+}};
\node[cb] (caB2) at (160,914) {};
\node[tb] (caB2t) at (160,905.5) {Ca\textsuperscript{2+}};
\node[wb] (cam) at (191.7,914.5) {CaM};
\node[tb] (gaps) at (311.3,896) {(GAPs)};
\node[wb] (rapgap) at (324,908) {RapGAP};
\node[tb] (hpv) at (383.3,906.7) {HPV};
\node[wb] (e6) at (382.7,917.5) {E6};
\node[wb] (dock4) at (248.3,920.3) {DOCK4};
\node[wb] (e6tp1) at (338.3,929.3) {E6-TP1};
\node[wb] (gs) at (145,938.7) {Gs};
\node[wb] (ac) at (191.7,938.7) {AC};
\node[cb] (campB) at (225.7,938.3) {};
\node[tb] (campBt) at (225.7,947) {cAMP};
\node[wb] (epac) at (259.3,938.7) {Epac};
\node[wb] (spa1) at (349.3,949) {Spa1};
\node[rb] (gpcr2) at (102.7,960.3) {GPCR};
\node[wb] (gq) at (145,978.7) {Gq};
\node[wb] (plcB1) at (193.3,978.7) {PLC};
\node[cb] (dagB1) at (227.7,967.7) {};
\node[tb] (dagB1t) at (230,976.5) {DAG};
\node[wb, double, double distance=0.8pt] (cdgef2) at (278.7,967.2) {CD-GEFII};
\node[wb] (spal2) at (362,969.5) {Spa-L2};
\node[wb] (spal3) at (376,987.3) {Spa-L3};
\node[cb] (caB3) at (228.3,999.3) {};
\node[tb] (caB3t) at (229.5,1008) {Ca\textsuperscript{2+}};
\node[wb, double, double distance=0.8pt] (cdgef) at (300,1000.3) {CD-GEF};
\node[pb] (calp) at (184.5,1021.3) {Calcium signaling\\pathway};
\node[rb] (gf) at (57,1040.8) {GF};
\node[rb] (rtk) at (102.7,1040.8) {RTK};
\node[wb] (crk) at (254,1040.8) {Crk};
\node[wb] (c3g) at (330.7,1040.8) {C3G};
\node[tb] (stretch) at (57.5,1063.3) {Stretch};
\node[wb] (p130) at (152,1064.3) {p130Cas};
\node[wb] (magi) at (292.7,1071.3) {MAGI};
\node[wb, double, double distance=0.8pt] (pdzgef) at (347.8,1071.3) {PDZ-GEF};
\node[rb] (ecad) at (102.7,1099) {E-cad};
\node[wb] (bcatB) at (125,1110) {$\beta$-cat};
\node[wb] (rap1o) at (292.7,1107.2) {Rap1};
\node[wb] (adap) at (217.8,1135) {ADAP};
\node[wb] (slp76) at (202,1145) {SLP-76};
\node[wb] (skap) at (229,1145) {SKAP55};
\node[wb] (tcr) at (102.7,1157.3) {TCR};
\node[wb] (lat) at (150,1157.3) {LAT};
\node[wb] (plcB2) at (202,1170.2) {PLC};
\node[cb] (dagB2) at (240.7,1170) {};
\node[tb] (dagB2t) at (242,1178) {DAG};
\node[rb] (pkc) at (281.7,1170.2) {PKC};
\node[wb] (pkd) at (328.3,1170.2) {PKD};
\node[cb] (caB4) at (242.3,1192.3) {};
\node[tb] (caB4t) at (243,1201) {Ca\textsuperscript{2+}};
\node[pb] (tcrp) at (164.2,1193.7) {T cell receptor\\signaling pathway};
\node[tb] (active) at (390.5,1138.3) {(active)};
\node[cb] (gtp1) at (418.3,1122) {};
\node[tb] (gtp1t) at (418.3,1114) {GTP};
\node[wb] (rap1a) at (418,1140) {Rap1};
\node[rb] (ras) at (433,1194.3) {Ras};
\node[cb] (gtp2) at (433.3,1210.7) {};
\node[tb] (gtp2t) at (433.3,1219.5) {GTP};
\node[font=\sansf\bfseries\fontsize{7.4}{8}\selectfont, inner sep=0, anchor=west] (dataB1) at (10.7,1230) {Data on KEGG graph};
\node[font=\sansf\bfseries\fontsize{7.4}{8}\selectfont, inner sep=0, anchor=west] (dataB2) at (10.7,1239) {Rendered by Pathview};
% right part
\node[wb] (id1) at (498.7,837.2) {ID1};
\node[wb] (tsp1) at (547,837.2) {TSP1};
\node[tb, anchor=west] (defang) at (671,836) {Defective angiogenesis};
\node[pb, minimum width=66pt] (regB) at (606.3,863.7) {Regulation of\\actin cytoskeleton};
\node[wb] (ralgds) at (498.7,877.5) {RalGDS};
\node[wb] (ral) at (547,870.8) {Ral};
\node[wb] (racB1) at (547,883.3) {Rac};
\node[tb, anchor=west] (smg) at (675,879.3) {Smg cross-talk};
\node[pb, minimum width=66pt, minimum height=15.7pt] (focB) at (606.3,892.2) {Focal adhesion};
\node[wb] (talin) at (547,909.3) {Talin};
\node[wb] (integ1) at (595.3,909.3) {Integrin};
\node[wb] (profilin) at (547,927.5) {Profilin};
\node[wb] (enavasp) at (547,940.3) {Ena/VASP};
\node[wb] (factinB) at (595.3,936.5) {F-actin};
\node[wb] (riam) at (498.7,936.5) {RIAM};
\node[wb] (asap3) at (498.7,964.2) {Asap3};
\node[wb] (rho) at (547,964.2) {Rho};
\node[rb] (src) at (498.7,985.8) {Src};
\node[wb] (frg) at (525.8,985.8) {FRG};
\node[wb] (cdc42B) at (566.3,987) {Cdc42};
\node[wb] (par6) at (612.5,1002.5) {PAR6};
\node[wb] (par3) at (598,1013.3) {PAR3};
\node[wb] (apkc) at (625.3,1013.3) {aPKC};
\node[wb] (vav2B) at (498.7,1006.7) {Vav2};
\node[wb] (tiam) at (498.7,1017.7) {Tiam};
\node[wb] (racB2) at (547,1013.3) {Rac};
\node[wb] (af6) at (498.7,1042.3) {AF6};
\node[wb] (p120) at (547,1042.3) {p120};
\node[rb] (cad) at (598.3,1050.7) {Cad};
\node[wb] (krit) at (498.7,1060.7) {Krit};
\node[wb] (bcatB2) at (547,1060.7) {$\beta$-cat};
\node[pb, minimum width=66pt, minimum height=15.7pt] (adhB) at (603,1070.5) {Adherens junction};
\node[wb] (rgs14) at (498.7,1077) {RGS14};
\node[wb] (rapl) at (498.7,1091) {RapL};
\node[wb] (pkd1) at (498.7,1106) {PKD1};
\node[wb] (integ2) at (547,1091.7) {Integrin};
\node[wb] (braf) at (498.7,1125) {B-Raf};
\node[wb] (raf1B) at (498.7,1140) {Raf-1};
\node[wb] (mek) at (579,1133.3) {MEK};
\node[rb] (erkB2) at (622.5,1133.3) {ERK};
\node[pb] (mapkB) at (603.3,1159) {MAPK signaling\\pathway};
\node[wb] (mek36) at (498.7,1161.7) {MEK3,6};
\node[wb, double, double distance=0.8pt] (p38) at (547,1161.7) {p38MAPK};
\node[rb] (pi3kB) at (498.7,1186) {PI3K};
\node[rb] (akt) at (547,1186) {Akt};
\node[pb] (pi3kBp) at (603.3,1186.2) {PI3K-Akt signaling\\pathway};
\node[wb] (plceB) at (498.7,1202.7) {PLC$\varepsilon$};
\node[tb, anchor=west, align=left] (cellad) at (682,1010) {Cell adhesion,\\migration,\\polarity};
\node[tb, anchor=west, align=left] (prol) at (680,1171) {Proliferation\\survival\\gene activation};
\node[font=\fontsize{5.5}{6}\selectfont, inner sep=0] (ppB) at (601,1127.5) {+p};
% coordinates for free ends
\coordinate (eRepac) at (257,888);
\coordinate (nmIn) at (75,914.5);
\coordinate (eGap) at (296.7,908);
\coordinate (eTp1) at (310.7,929.3);
\coordinate (eDock) at (276,920.3);
\coordinate (eEpac) at (287,938.7);
\coordinate (eSpa1) at (323.3,949);
\coordinate (eCdg2) at (306,967.2);
\coordinate (eSl2) at (335,969.5);
\coordinate (eSl3) at (349,987.3);
\coordinate (eCdg) at (326.7,1000.3);
\coordinate (eC3g) at (358.3,1040.8);
\coordinate (ePdz) at (375,1071.3);
\coordinate (eSkap) at (388.3,1086.7);
\coordinate (ePkd) at (398.3,1095);
\coordinate (dd1) at (410,1107);
\coordinate (dd2) at (425,1104);
\coordinate (dd3) at (261,860);
\coordinate (dfs) at (593,836);
\coordinate (smgs) at (597,879.3);
\coordinate (brA) at (656.7,1006.7);
\coordinate (brAb) at (641.7,1110);
\coordinate (brP) at (656.7,1170);
\coordinate (brPt) at (641.7,1122.7);
\coordinate (brPb) at (641.7,1215);
% edges B
\draw[ab] (gpcr1) -- (gio);
\draw[db, rounded corners=8] (gio.east) -- (366.7,823) -- (366.7,908) -- (rapgap.east);
\draw[lb] (gdp) -- (rap1i);
\draw[bb] (mras) -- (repac);
\draw[ab] (repac) -- (eRepac);
\draw[lb] (nmIn) -- (nmdar);
\draw[ab] (nmdar) -- (caB1); \draw[db] (caB1) -- (caB2); \draw[lb] (caB2) -- (cam);
\draw[ab] (cam) -- (ac);
\draw[ab] (rapgap) -- (eGap);
\draw[bb] (e6.south west) -- (e6tp1.east);
\draw[ab] (e6tp1) -- (eTp1);
\draw[ab] (dock4) -- (eDock);
\draw[ab] (gpcr2.east) -- (gs.south west); \draw[ab] (gpcr2.east) -- (gq.north west);
\draw[ab] (gs) -- (ac); \draw[ab] (ac) -- (campB); \draw[ab] (campB) -- (epac);
\draw[ab] (epac) -- (eEpac);
\draw[ab] (spa1) -- (eSpa1);
\draw[bb] (af6.west) -- (spa1.east);
\draw[ab] (gq) -- (plcB1); \draw[ab] (plcB1.east) -- (dagB1); \draw[ab] (plcB1.east) -- (caB3);
\draw[ab] (dagB1) -- (cdgef2); \draw[ab] (cdgef2) -- (eCdg2);
\draw[ab] (spal2) -- (eSl2); \draw[ab] (spal3) -- (eSl3);
\draw[ab] (caB3) -- (cdgef); \draw[ab] (cdgef) -- (eCdg);
\draw[ab] (rtk.north east) -- (plcB1.south west);
\draw[ab] (gf) -- (rtk); \draw[ab] (rtk) -- (crk); \draw[ab] (crk) -- (c3g); \draw[ab] (c3g) -- (eC3g);
\draw[db] (stretch) -- (p130);
\draw[ab] (p130.east) -- (crk.south west);
\draw[ab] (ecad.east) -- (c3g.south west);
\draw[ab] (bcatB.east) -- (magi.west);
\draw[ab] (magi) -- (pdzgef); \draw[ab] (pdzgef) -- (ePdz);
\draw[db] (rap1o.east) -- (pdzgef.south);
\draw[ab] (tcr) -- (lat); \draw[ab] (lat.east) -- (slp76.west); \draw[ab] (lat.east) -- (plcB2.west);
\draw[ab] (plcB2) -- (dagB2); \draw[ab] (plcB2.south east) -- (caB4);
\draw[ab] (dagB2) -- (pkc); \draw[ab] (pkc) -- (pkd);
\draw[ab, rounded corners=10] (skap.east) -- (330,1145) -- (eSkap);
\draw[ab] (pkd.north east) -- (ePkd);
\draw[db] (rap1i.south east) -- (dd1);
\draw[db] (dd2) -- (dd3);
\draw[bb] (rap1a.east) -- (id1.south west);
\draw[bb] (rap1a.east) -- (ralgds.south west);
\foreach \t in {riam,asap3,src,tiam,af6,krit,rgs14,rapl,pkd1,braf,mek36,pi3kB,plceB}{\draw[ab] (rap1a.east) -- (\t.west);}
\draw[bb] (rap1a.east) -- (raf1B.west);
\draw[ab] (ras.north east) -- (braf.west); \draw[ab] (ras.north east) -- (raf1B.west);
\draw[ab] (ras.east) -- (plceB.west); \draw[ab] (ras.north west) -- (rap1a.south);
\draw[lb] (gtp1) -- (rap1a); \draw[lb] (gtp2) -- (ras);
\draw[bb] (id1) -- (tsp1);
\draw[ab] (ralgds) -- (ralgds -| ral.west);
\draw[ab] (riam.east) -- (talin.south west); \draw[ab] (riam.east) -- (riam -| profilin.west);
\draw[ab] (talin) -- (integ1);
\draw[ab] (enavasp.east) -- (factinB.west);
\draw[ab] (asap3) -- (rho); \draw[ab] (rho.east) -- (factinB.south west);
\draw[ab] (frg) -- (cdc42B); \draw[ab] (cdc42B.north east) -- (factinB.south); \draw[ab] (cdc42B.east) -- (par6.west);
\draw[ab] (racB2 -| vav2B.east) -- (racB2.west);
\draw[ab] (racB2) -- (par3);
\draw[ab] (af6) -- (p120); \draw[ab] (p120.east) -- (cad.west);
\draw[ab] (krit) -- (bcatB2); \draw[ab] (bcatB2.east) -- (cad.south west);
\draw[ab] (rgs14.east) -- (integ2.west); \draw[ab] (rapl) -- (integ2); \draw[ab] (pkd1.east) -- (integ2.west);
\draw[ab] (braf.east) -- (mek.west); \draw[ab] (raf1B.east) -- (mek.west); \draw[ab] (mek) -- (erkB2);
\draw[ab] (mek36) -- (p38); \draw[ab] (pi3kB) -- (akt);
\draw[db] (dfs) -- (defang.west);
\draw[db] (smgs) -- (smg.west);
\draw[dnb, rounded corners=6] (focB.south east) -| (brA);
\draw[dnb, rounded corners=6] (brAb) -| (brA);
\draw[db] (brA) -- (cellad.west);
\draw[dnb, rounded corners=6] (brPt) -| (brP);
\draw[dnb, rounded corners=6] (brPb) -| (brP);
\draw[db] (brP) -- (prol.west);
\end{tikzpicture}
\end{document}
